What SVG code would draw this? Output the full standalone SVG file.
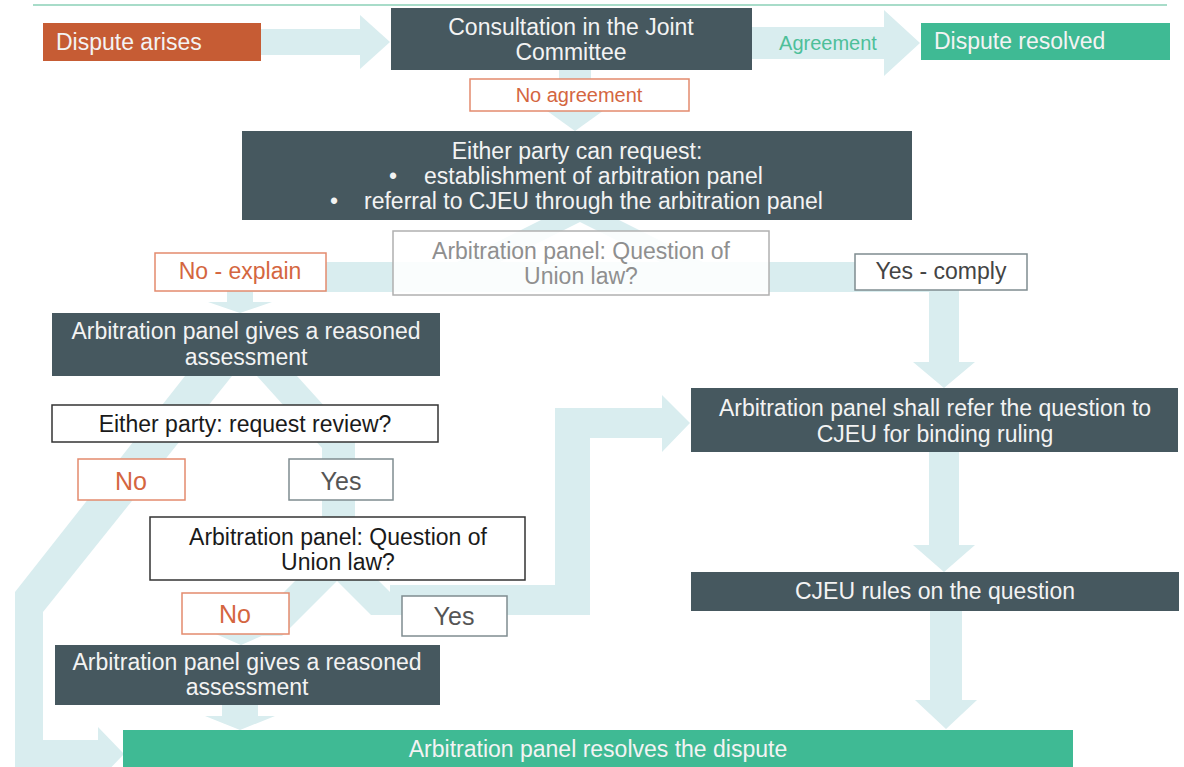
<svg xmlns="http://www.w3.org/2000/svg" width="1184" height="767" viewBox="0 0 1184 767">
<style>
text{font-family:"Liberation Sans",Arial,sans-serif;font-size:23px}
.c{text-anchor:middle}
.w{fill:#f3f3f3}
.dark{fill:#46585f}
.green{fill:#3fba94}
.conn{fill:#d9edef}
.obox{fill:#fff;stroke:#e38b6e;stroke-width:1.5}
.gbox{fill:#fff;stroke:#7f8c90;stroke-width:1.5}
.kbox{fill:#fff;stroke:#333;stroke-width:1.5}
.ot{fill:#d4663f}
.gt{fill:#555}
.kt{fill:#1a1a1a}
</style>
<line x1="33" y1="5" x2="1167" y2="5" stroke="#a8dcc9" stroke-width="2"/>
<g id="connectors" class="conn">
<polygon points="261,29 360,29 360,15 390,42 360,69 360,55 261,55"/>
<polygon points="752,27 884,27 884,10 920,43 884,76 884,59 752,59"/>
<polygon points="559,70 591,70 591,108 607,108 575,131 543,108 559,108"/>
<polygon points="602,211 559,211 455,263 498,263"/>
<polygon points="558,211 601,211 705,263 662,263"/>
<polygon points="227,262 959,262 959,362 975,362 944,388 913,362 929,362 929,292 253,292 253,302 272,302 240,313 208,302 227,302"/>
<polygon points="185,376 232,376 43,612 43,740 98,740 98,727 124,754 98,781 98,768 15,768 15,592"/>
<polygon points="257,376 297,376 355,440 355,517 322,517 322,448"/>
<polygon points="306,570 348,570 282,636 240,636"/>
<polygon points="228,610 254,610 254,632 271,632 241,645 211,632 228,632"/>
<polygon points="326,570 368,570 413,615 371,615"/>
<polygon points="390,585 555,585 555,408 662,408 662,395 690,423 662,452 662,438 590,438 590,615 390,615"/>
<polygon points="222,705 258,705 258,716 275,716 240,730 205,716 222,716"/>
<polygon points="929,452 959,452 959,545 975,545 944,572 913,545 929,545"/>
<polygon points="930,611 962,611 962,700 977,700 946,729 915,700 930,700"/>
</g>
<g id="dispute-arises"><rect x="43" y="23" width="218" height="38" fill="#c65c34"/><text x="56" y="50" class="w">Dispute arises</text></g>
<g id="consultation"><rect x="391" y="8" width="361" height="62" class="dark"/><text x="571" y="35" class="c w">Consultation in the Joint</text><text x="571" y="60" class="c w">Committee</text></g>
<g id="agreement-label"><text x="828" y="50" class="c" style="font-size:20px;fill:#4dbf99">Agreement</text></g>
<g id="dispute-resolved"><rect x="921" y="23" width="249" height="37" class="green"/><text x="934" y="49" class="w">Dispute resolved</text></g>
<g id="no-agreement"><rect x="470" y="79" width="219" height="32" class="obox"/><text x="579" y="102" class="c ot" style="font-size:20px">No agreement</text></g>
<g id="either-request"><rect x="242" y="131" width="670" height="89" class="dark"/><text x="577" y="159" class="c w">Either party can request:</text><text x="389" y="184" class="w">•</text><text x="424" y="184" class="w">establishment of arbitration panel</text><text x="330" y="209" class="w">•</text><text x="364" y="209" class="w">referral to CJEU through the arbitration panel</text></g>
<g id="question-1"><rect x="393" y="231" width="376" height="64" fill="#fff" fill-opacity="0.85" stroke="#b0b0b0" stroke-width="1.5"/><text x="581" y="259" class="c" fill="#8f8f8f">Arbitration panel: Question of</text><text x="581" y="284" class="c" fill="#8f8f8f">Union law?</text></g>
<g id="no-explain"><rect x="155" y="253" width="171" height="38" class="obox"/><text x="240" y="279" class="c ot">No - explain</text></g>
<g id="yes-comply"><rect x="855" y="254" width="172" height="36" class="gbox"/><text x="941" y="279" class="c" fill="#444">Yes - comply</text></g>
<g id="assessment-1"><rect x="52" y="313" width="388" height="63" class="dark"/><text x="246" y="339" class="c w">Arbitration panel gives a reasoned</text><text x="246" y="365" class="c w">assessment</text></g>
<g id="request-review"><rect x="52" y="405" width="386" height="37" class="kbox"/><text x="245" y="432" class="c kt">Either party: request review?</text></g>
<g id="no-1"><rect x="78" y="459" width="107" height="41" class="obox"/><text x="131" y="490" class="c ot" style="font-size:25px">No</text></g>
<g id="yes-1"><rect x="289" y="459" width="104" height="41" class="gbox"/><text x="341" y="490" class="c gt" style="font-size:25px">Yes</text></g>
<g id="question-2"><rect x="150" y="517" width="375" height="63" class="kbox"/><text x="338" y="545" class="c kt">Arbitration panel: Question of</text><text x="338" y="570" class="c kt">Union law?</text></g>
<g id="no-2"><rect x="182" y="593" width="107" height="41" class="obox"/><text x="235" y="623" class="c ot" style="font-size:25px">No</text></g>
<g id="yes-2"><rect x="402" y="596" width="105" height="40" class="gbox"/><text x="454" y="625" class="c gt" style="font-size:25px">Yes</text></g>
<g id="assessment-2"><rect x="55" y="645" width="385" height="60" class="dark"/><text x="247" y="670" class="c w">Arbitration panel gives a reasoned</text><text x="247" y="695" class="c w">assessment</text></g>
<g id="refer-cjeu"><rect x="691" y="388" width="487" height="64" class="dark"/><text x="935" y="416" class="c w">Arbitration panel shall refer the question to</text><text x="935" y="442" class="c w">CJEU for binding ruling</text></g>
<g id="cjeu-rules"><rect x="691" y="572" width="488" height="39" class="dark"/><text x="935" y="599" class="c w">CJEU rules on the question</text></g>
<g id="resolves"><rect x="123" y="730" width="950" height="40" class="green"/><text x="598" y="757" class="c w">Arbitration panel resolves the dispute</text></g>
</svg>
